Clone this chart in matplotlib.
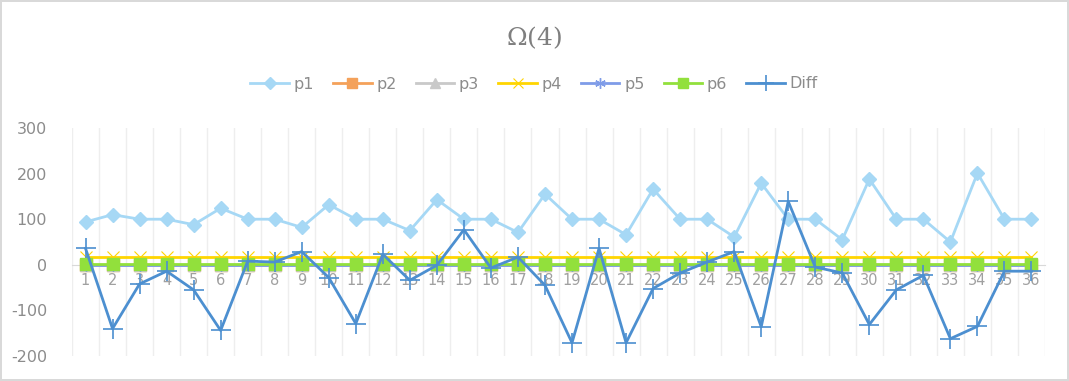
import matplotlib
matplotlib.use("Agg")
import matplotlib.pyplot as plt
import numpy as np

plt.rcParams["axes.unicode_minus"] = False
plt.rcParams["mathtext.fontset"] = "dejavuserif"

categories = list(range(1, 37))
p1 = [94, 110, 100, 100, 88, 124, 100, 100, 82, 132, 100, 100, 75, 143, 100, 100, 71, 155,
      100, 100, 66, 166, 100, 100, 61, 179, 100, 100, 55, 188, 100, 100, 50, 201, 100, 100]
p2 = [0] * 36
p3 = [0] * 36
p4 = [18] * 36
p5 = [0] * 36
p6 = [2] * 36
diff = [36, -140, -42, -14, -55, -144, 8, 6, 29, -28, -129, 23, -34, -1, 77, -7, 17, -45,
        -171, 36, -171, -52, -18, 6, 29, -136, 139, -5, -18, -131, -55, -23, -162, -135, -14, -14]

fig = plt.figure(figsize=(10.69, 3.81), dpi=100)
fig.patch.set_edgecolor("#D9D9D9")
fig.patch.set_linewidth(1.5)
ax = fig.add_axes([72/1069, 1-356/381, (1045-72)/1069, (356-128)/381])

x = np.array(categories)
ax.plot(x, p1, color="#A6D8F5", lw=2.0, marker="D", ms=7, label="p1", zorder=3)
ax.plot(x, p2, color="#F4A15A", lw=2.0, marker="s", ms=8, label="p2", zorder=3)
ax.plot(x, p3, color="#C9C9C9", lw=2.0, marker="^", ms=9, label="p3", zorder=3)
ax.plot(x, p4, color="#FFD500", lw=2.0, marker="x", ms=8, mew=0.8, label="p4", zorder=3)
ax.plot(x, p5, color="#7F9CE8", lw=2.0, marker=(6, 2, 0), ms=9, mew=1, label="p5", zorder=3)
ax.plot(x, p6, color="#92E03C", lw=2.0, marker="s", ms=8, label="p6", zorder=3)
ax.plot(x, diff, color="#4C8FD0", lw=2.0, marker="+", ms=14, mew=1.2, label="Diff", zorder=4)

ax.set_xlim(0.5, 36.5)
ax.set_ylim(-200, 300)
ax.set_yticks([-200, -100, 0, 100, 200, 300])
ax.set_xticks(x)
ax.set_xticklabels([str(c) for c in categories])
for b in np.arange(0.5, 37, 1):
    ax.axvline(b, color="#EEEEEE", lw=1, zorder=0)

for s in ["top", "right", "left"]:
    ax.spines[s].set_visible(False)
ax.spines["bottom"].set_position(("data", 0))
ax.spines["bottom"].set_color("#D9D9D9")
ax.tick_params(axis="x", length=0, pad=6, labelsize=10.5, labelcolor="#A0A0A0")
ax.tick_params(axis="y", length=0, pad=18, labelsize=11.5, labelcolor="#8C8C8C")

fig.text(534/1069, 1-38/381, r"$\Omega(4)$", ha="center", va="center",
         fontsize=18, color="#7F7F7F")

handles, labels = ax.get_legend_handles_labels()
leg = fig.legend(handles, labels, loc="center", bbox_to_anchor=(534/1069, 1-84/381),
                 ncol=7, frameon=False, fontsize=11.5, handlelength=2.4,
                 columnspacing=1.2, handletextpad=0.3, markerscale=0.85)
for t in leg.get_texts():
    t.set_color("#8C8C8C")

fig.savefig("out.png", dpi=100)
